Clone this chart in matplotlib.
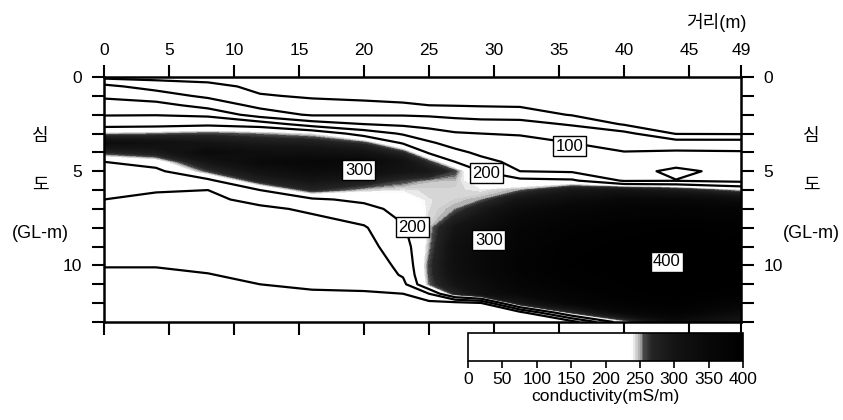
"""
Conductivity section (distance vs depth) with grey-scale fill and contour lines.
Writes out.png (843x420).
"""
import numpy as np
import matplotlib
matplotlib.use("Agg")
import matplotlib.pyplot as plt
from matplotlib import font_manager
from matplotlib.colors import LinearSegmentedColormap

# --- Data read off the section ---------------------------------------------
# distance stations (m) and depth rows (GL-m)
dist = [0, 4, 8, 12, 16, 20, 23, 25, 27, 29, 32, 36, 40, 44, 49]
depth = [0, 0.5, 1, 1.5, 2, 2.5, 3, 3.5, 4, 4.5, 5, 5.5, 6, 6.5, 7,
         8, 9, 10, 10.5, 11, 11.5, 12, 12.5, 13]

# conductivity (mS/m) at each depth row, one list per distance station
cond_x00 = [12, 59, 92, 120, 147, 181, 244, 330, 265, 200, 188, 175, 162, 150, 143, 129, 115, 101, 96, 90, 85, 80, 75, 70]
cond_x04 = [12, 35, 69, 119, 148, 183, 250, 317, 284, 221, 188, 170, 152, 144, 138, 126, 113, 101, 96, 90, 85, 80, 75, 70]
cond_x08 = [8, 29, 41, 80, 140, 190, 258, 299, 340, 299, 258, 188, 150, 144, 139, 127, 116, 105, 99, 93, 87, 82, 76, 70]
cond_x12 = [6, 13, 22, 37, 75, 178, 250, 286, 321, 343, 309, 274, 200, 158, 145, 134, 123, 111, 106, 100, 93, 85, 78, 70]
cond_x16 = [5, 11, 17, 28, 44, 125, 238, 282, 317, 353, 333, 300, 267, 192, 154, 139, 127, 115, 109, 104, 97, 88, 79, 70]
cond_x20 = [5, 10, 16, 24, 46, 100, 179, 259, 305, 351, 326, 284, 244, 211, 183, 145, 132, 118, 112, 105, 98, 88, 79, 70]
cond_x23 = [5, 10, 15, 22, 46, 90, 144, 195, 264, 311, 303, 259, 240, 229, 217, 195, 179, 163, 155, 136, 100, 90, 80, 70]
cond_x25 = [5, 9, 14, 20, 43, 82, 121, 157, 193, 260, 291, 248, 244, 242, 242, 245, 248, 258, 256, 252, 150, 85, 78, 70]
cond_x27 = [5, 9, 13, 19, 39, 69, 105, 132, 162, 200, 258, 247, 244, 245, 250, 300, 320, 320, 315, 300, 270, 80, 76, 70]
cond_x29 = [4, 8, 12, 18, 36, 64, 100, 120, 140, 164, 200, 225, 240, 250, 285, 325, 340, 345, 340, 330, 320, 95, 80, 70]
cond_x32 = [3, 7, 11, 17, 34, 63, 97, 112, 124, 137, 150, 214, 250, 300, 335, 365, 375, 380, 375, 365, 350, 290, 82, 72]
cond_x36 = [3, 6, 9, 14, 18, 46, 74, 100, 115, 129, 144, 208, 290, 330, 360, 385, 395, 398, 395, 390, 380, 360, 260, 80]
cond_x40 = [2, 5, 7, 10, 13, 17, 59, 80, 102, 120, 125, 145, 300, 350, 375, 395, 400, 400, 400, 398, 395, 385, 350, 230]
cond_x44 = [2, 4, 6, 8, 10, 13, 18, 67, 108, 125, 165, 148, 280, 350, 380, 398, 400, 400, 400, 400, 400, 395, 380, 330]
cond_x49 = [2, 4, 6, 8, 10, 13, 17, 67, 105, 116, 127, 138, 240, 330, 370, 395, 400, 400, 400, 398, 390, 370, 330, 290]

line_levels = [20, 50, 100, 150, 200]
label_values = ["300", "200", "100", "200", "300", "400"]
label_xy = [(19.6, 4.95), (29.4, 5.1), (35.8, 3.67), (23.7, 7.98), (29.6, 8.67), (43.3, 9.8)]

x_ticks = [0, 5, 10, 15, 20, 25, 30, 35, 40, 45, 49]
cbar_ticks = [0, 50, 100, 150, 200, 250, 300, 350, 400]

# --- Fonts ------------------------------------------------------------------
installed = {f.name for f in font_manager.fontManager.ttflist}
narrow = "Liberation Sans Narrow" in installed
LATIN = "Liberation Sans Narrow" if narrow else "Liberation Sans"
plt.rcParams["font.family"] = [LATIN, "Noto Sans CJK KR", "DejaVu Sans"]
fs_tick = 14 if narrow else 12.5
fs_cbar = 14 if narrow else 12.5
fs_side = 13

Z = np.array([cond_x00, cond_x04, cond_x08, cond_x12, cond_x16, cond_x20, cond_x23,
              cond_x25, cond_x27, cond_x29, cond_x32, cond_x36, cond_x40, cond_x44,
              cond_x49]).T

# white up to ~240, light grey fringe, then near-black
gray = LinearSegmentedColormap.from_list("cond", [
    (0.0, "#ffffff"), (0.595, "#ffffff"), (0.622, "#bdbdbd"), (0.64, "#4a4a4a"),
    (0.67, "#242424"), (0.75, "#141414"), (0.875, "#080808"), (1.0, "#000000")])

W, H = 843, 420
fig = plt.figure(figsize=(W / 100, H / 100), dpi=100)
ax = fig.add_axes([104 / W, (H - 322) / H, (741 - 104) / W, (322 - 77) / H])

cf = ax.contourf(dist, depth, Z, levels=np.linspace(0, 400, 161), cmap=gray)
ax.contour(dist, depth, Z, levels=line_levels, colors="black", linewidths=1.6)

for txt, (lx, ly) in zip(label_values, label_xy):
    ax.text(lx, ly, txt, ha="center", va="center", fontsize=12, zorder=5,
            bbox=dict(boxstyle="square,pad=0.15", fc="white", ec="black", lw=1.0))

ax.set_xlim(0, 49)
ax.set_ylim(13, 0)
ax.set_xticks(x_ticks)
ax.set_xticklabels([str(t) for t in x_ticks])
ax.tick_params(axis="x", top=True, bottom=True, labeltop=True, labelbottom=False,
               direction="out", length=9, width=1.5, pad=5, labelsize=fs_tick)
ax.set_yticks(range(0, 14))
ax.set_yticklabels([str(t) if t % 5 == 0 else "" for t in range(0, 14)])
ax.tick_params(axis="y", left=True, right=True, labelleft=True, labelright=True,
               direction="out", length=9, width=1.5, pad=7, labelsize=fs_tick)
for sp in ax.spines.values():
    sp.set_linewidth(1.8)

# axis titles
fig.text(716 / W, 1 - 23 / H, "거리(m)", ha="center", va="center", fontsize=fs_side)
for px in (40, 811):
    fig.text(px / W, 1 - 136 / H, "심", ha="center", va="center", fontsize=fs_side)
    fig.text(px / W, 1 - 185 / H, "도", ha="center", va="center", fontsize=fs_side)
    fig.text(px / W, 1 - 233 / H, "(GL-m)", ha="center", va="center", fontsize=fs_side)

# colour bar
cax = fig.add_axes([468 / W, (H - 361) / H, 275 / W, 28 / H])
cb = fig.colorbar(cf, cax=cax, orientation="horizontal", ticks=cbar_ticks)
cb.outline.set_linewidth(1.2)
cb.ax.tick_params(direction="out", length=5, width=1.2, labelsize=fs_cbar, pad=3)
cb.set_label("conductivity(mS/m)", fontsize=fs_cbar, labelpad=1)

fig.savefig("out.png", dpi=100)
